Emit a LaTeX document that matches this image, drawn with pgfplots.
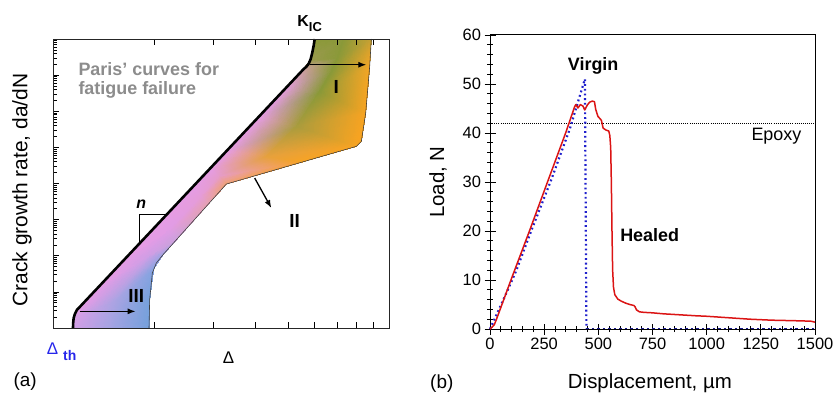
\documentclass[border=0pt]{standalone}
\usepackage{pgfplots}
\pgfplotsset{compat=1.18}
\usepackage{fontspec}
\setmainfont{Liberation Sans}
\usetikzlibrary{arrows.meta}
\definecolor{redc}{rgb}{0.86,0.08,0.08}
\definecolor{bluec}{rgb}{0.12,0.12,0.80}
\definecolor{thblue}{rgb}{0.15,0.15,0.92}
\definecolor{grayt}{rgb}{0.55,0.55,0.55}
\newcommand{\fs}[1]{\fontsize{#1}{#1}\selectfont}
\begin{document}
\begin{tikzpicture}[x=1bp,y=1bp]
\useasboundingbox (0,0) rectangle (834,394);
% ---------------- panel (a)
\begin{axis}[at={(53bp,66bp)}, anchor=south west, scale only axis,
  width=336bp, height=289bp,
  xmin=0, xmax=1, ymin=-10, ymax=-2, clip=false, axis on top,
  axis line style={line width=0.9bp, black!85},
  xtick={0.30103,0.47712,0.60206,0.69897,0.77815,0.84510,0.90309,0.95424},
  xticklabels={}, xtick pos=both,
  ytick={-10,-9,...,-2}, yticklabels={}, ytick pos=left,
  minor ytick={-9.69897,-9.52288,-9.39794,-9.30103,-9.22185,-9.15490,-9.09691,-9.04576,
  -8.69897,-8.52288,-8.39794,-8.30103,-8.22185,-8.15490,-8.09691,-8.04576,
  -7.69897,-7.52288,-7.39794,-7.30103,-7.22185,-7.15490,-7.09691,-7.04576,
  -6.69897,-6.52288,-6.39794,-6.30103,-6.22185,-6.15490,-6.09691,-6.04576,
  -5.69897,-5.52288,-5.39794,-5.30103,-5.22185,-5.15490,-5.09691,-5.04576,
  -4.69897,-4.52288,-4.39794,-4.30103,-4.22185,-4.15490,-4.09691,-4.04576,
  -3.69897,-3.52288,-3.39794,-3.30103,-3.22185,-3.15490,-3.09691,-3.04576,
  -2.69897,-2.52288,-2.39794,-2.30103,-2.22185,-2.15490,-2.09691,-2.04576},
  tick align=inside, major tick length=6bp, minor tick length=4bp,
  tick style={black, line width=0.6bp},
  ylabel={Crack growth rate, da/dN},
  ylabel style={at={(axis description cs:-0.092,0.4775)}, anchor=center, font=\fs{21}},
]
% gradient-filled region (triangles, colours per vertex)
\addplot[patch, shader=interp, mesh/color input=explicit, point meta=explicit symbolic]
table[meta=c] {
x y c
0.0595 -10 rgb=0.82,0.62,0.90
0.1726 -10 rgb=0.64,0.64,0.89
0.1736 -9.631 rgb=0.66,0.64,0.89
0.0595 -10 rgb=0.82,0.62,0.90
0.1736 -9.631 rgb=0.66,0.64,0.89
0.0615 -9.723 rgb=0.85,0.62,0.90
0.1726 -10 rgb=0.64,0.64,0.89
0.2857 -10 rgb=0.46,0.63,0.86
0.2867 -9.631 rgb=0.46,0.63,0.86
0.1726 -10 rgb=0.64,0.64,0.89
0.2867 -9.631 rgb=0.46,0.63,0.86
0.1736 -9.631 rgb=0.66,0.64,0.89
0.0615 -9.723 rgb=0.85,0.62,0.90
0.1736 -9.631 rgb=0.66,0.64,0.89
0.1786 -9.262 rgb=0.68,0.64,0.89
0.0615 -9.723 rgb=0.85,0.62,0.90
0.1786 -9.262 rgb=0.68,0.64,0.89
0.0714 -9.493 rgb=0.90,0.61,0.90
0.1736 -9.631 rgb=0.66,0.64,0.89
0.2867 -9.631 rgb=0.46,0.63,0.86
0.2877 -9.216 rgb=0.46,0.63,0.86
0.1736 -9.631 rgb=0.66,0.64,0.89
0.2877 -9.216 rgb=0.46,0.63,0.86
0.1786 -9.262 rgb=0.68,0.64,0.89
0.0714 -9.493 rgb=0.90,0.61,0.90
0.1786 -9.262 rgb=0.68,0.64,0.89
0.2232 -8.662 rgb=0.74,0.63,0.89
0.0714 -9.493 rgb=0.90,0.61,0.90
0.2232 -8.662 rgb=0.74,0.63,0.89
0.1389 -8.828 rgb=0.90,0.61,0.90
0.1786 -9.262 rgb=0.68,0.64,0.89
0.2877 -9.216 rgb=0.46,0.63,0.86
0.2996 -8.367 rgb=0.52,0.64,0.88
0.1786 -9.262 rgb=0.68,0.64,0.89
0.2996 -8.367 rgb=0.52,0.64,0.88
0.2232 -8.662 rgb=0.74,0.63,0.89
0.1389 -8.828 rgb=0.90,0.61,0.90
0.2232 -8.662 rgb=0.74,0.63,0.89
0.2728 -8.063 rgb=0.82,0.62,0.90
0.1389 -8.828 rgb=0.90,0.61,0.90
0.2728 -8.063 rgb=0.82,0.62,0.90
0.2183 -8.044 rgb=0.90,0.61,0.90
0.2232 -8.662 rgb=0.74,0.63,0.89
0.2996 -8.367 rgb=0.52,0.64,0.88
0.3274 -7.971 rgb=0.62,0.64,0.89
0.2232 -8.662 rgb=0.74,0.63,0.89
0.3274 -7.971 rgb=0.62,0.64,0.89
0.2728 -8.063 rgb=0.82,0.62,0.90
0.2183 -8.044 rgb=0.90,0.61,0.90
0.2728 -8.063 rgb=0.82,0.62,0.90
0.3433 -7.297 rgb=0.88,0.61,0.90
0.2183 -8.044 rgb=0.90,0.61,0.90
0.3433 -7.297 rgb=0.88,0.61,0.90
0.3175 -7.057 rgb=0.90,0.61,0.90
0.2728 -8.063 rgb=0.82,0.62,0.90
0.3274 -7.971 rgb=0.62,0.64,0.89
0.3690 -7.537 rgb=0.80,0.63,0.86
0.2728 -8.063 rgb=0.82,0.62,0.90
0.3690 -7.537 rgb=0.80,0.63,0.86
0.3433 -7.297 rgb=0.88,0.61,0.90
0.3175 -7.057 rgb=0.90,0.61,0.90
0.3433 -7.297 rgb=0.88,0.61,0.90
0.4415 -6.310 rgb=0.90,0.61,0.85
0.3175 -7.057 rgb=0.90,0.61,0.90
0.4415 -6.310 rgb=0.90,0.61,0.85
0.4167 -6.079 rgb=0.90,0.61,0.90
0.3433 -7.297 rgb=0.88,0.61,0.90
0.3690 -7.537 rgb=0.80,0.63,0.86
0.4653 -6.531 rgb=0.90,0.63,0.68
0.3433 -7.297 rgb=0.88,0.61,0.90
0.4653 -6.531 rgb=0.90,0.63,0.68
0.4415 -6.310 rgb=0.90,0.61,0.85
0.4167 -6.079 rgb=0.90,0.61,0.90
0.4415 -6.310 rgb=0.90,0.61,0.85
0.4921 -5.793 rgb=0.90,0.61,0.80
0.4167 -6.079 rgb=0.90,0.61,0.90
0.4921 -5.793 rgb=0.90,0.61,0.80
0.4683 -5.572 rgb=0.90,0.61,0.90
0.4415 -6.310 rgb=0.90,0.61,0.85
0.4653 -6.531 rgb=0.90,0.63,0.68
0.5159 -6.015 rgb=0.94,0.63,0.45
0.4415 -6.310 rgb=0.90,0.61,0.85
0.5159 -6.015 rgb=0.94,0.63,0.45
0.4921 -5.793 rgb=0.90,0.61,0.80
0.4683 -5.572 rgb=0.90,0.61,0.90
0.4921 -5.793 rgb=0.90,0.61,0.80
0.6349 -5.249 rgb=0.90,0.63,0.24
0.4683 -5.572 rgb=0.90,0.61,0.90
0.6349 -5.249 rgb=0.90,0.63,0.24
0.5159 -5.102 rgb=0.90,0.61,0.90
0.4921 -5.793 rgb=0.90,0.61,0.80
0.5159 -6.015 rgb=0.94,0.63,0.45
0.7440 -5.397 rgb=0.97,0.64,0.14
0.4921 -5.793 rgb=0.90,0.61,0.80
0.7440 -5.397 rgb=0.97,0.64,0.14
0.6349 -5.249 rgb=0.90,0.63,0.24
0.5159 -5.102 rgb=0.90,0.61,0.90
0.6349 -5.249 rgb=0.90,0.63,0.24
0.7242 -4.419 rgb=0.66,0.61,0.24
0.5159 -5.102 rgb=0.90,0.61,0.90
0.7242 -4.419 rgb=0.66,0.61,0.24
0.6151 -4.124 rgb=0.90,0.61,0.90
0.6349 -5.249 rgb=0.90,0.63,0.24
0.7440 -5.397 rgb=0.97,0.64,0.14
0.9028 -4.972 rgb=0.97,0.64,0.13
0.6349 -5.249 rgb=0.90,0.63,0.24
0.9028 -4.972 rgb=0.97,0.64,0.13
0.7242 -4.419 rgb=0.66,0.61,0.24
0.6151 -4.124 rgb=0.90,0.61,0.90
0.7242 -4.419 rgb=0.66,0.61,0.24
0.7937 -3.450 rgb=0.54,0.60,0.22
0.6151 -4.124 rgb=0.90,0.61,0.90
0.7937 -3.450 rgb=0.54,0.60,0.22
0.6944 -3.340 rgb=0.89,0.61,0.86
0.7242 -4.419 rgb=0.66,0.61,0.24
0.9028 -4.972 rgb=0.97,0.64,0.13
0.9306 -4.050 rgb=0.97,0.64,0.13
0.7242 -4.419 rgb=0.66,0.61,0.24
0.9306 -4.050 rgb=0.97,0.64,0.13
0.7937 -3.450 rgb=0.54,0.60,0.22
0.6944 -3.340 rgb=0.89,0.61,0.86
0.7937 -3.450 rgb=0.54,0.60,0.22
0.8284 -2.897 rgb=0.54,0.60,0.22
0.6944 -3.340 rgb=0.89,0.61,0.86
0.8284 -2.897 rgb=0.54,0.60,0.22
0.7460 -2.832 rgb=0.80,0.62,0.62
0.7937 -3.450 rgb=0.54,0.60,0.22
0.9306 -4.050 rgb=0.97,0.64,0.13
0.9425 -2.758 rgb=0.95,0.65,0.15
0.7937 -3.450 rgb=0.54,0.60,0.22
0.9425 -2.758 rgb=0.95,0.65,0.15
0.8284 -2.897 rgb=0.54,0.60,0.22
0.7460 -2.832 rgb=0.80,0.62,0.62
0.8284 -2.897 rgb=0.54,0.60,0.22
0.8452 -2.528 rgb=0.54,0.60,0.22
0.7460 -2.832 rgb=0.80,0.62,0.62
0.8452 -2.528 rgb=0.54,0.60,0.22
0.7659 -2.574 rgb=0.60,0.60,0.30
0.8284 -2.897 rgb=0.54,0.60,0.22
0.9425 -2.758 rgb=0.95,0.65,0.15
0.9444 -2.435 rgb=0.90,0.64,0.16
0.8284 -2.897 rgb=0.54,0.60,0.22
0.9444 -2.435 rgb=0.90,0.64,0.16
0.8452 -2.528 rgb=0.54,0.60,0.22
0.7659 -2.574 rgb=0.60,0.60,0.30
0.8452 -2.528 rgb=0.54,0.60,0.22
0.8631 -2 rgb=0.54,0.60,0.22
0.7659 -2.574 rgb=0.60,0.60,0.30
0.8631 -2 rgb=0.54,0.60,0.22
0.7788 -2 rgb=0.54,0.60,0.22
0.8452 -2.528 rgb=0.54,0.60,0.22
0.9444 -2.435 rgb=0.90,0.64,0.16
0.9474 -2 rgb=0.78,0.63,0.20
0.8452 -2.528 rgb=0.54,0.60,0.22
0.9474 -2 rgb=0.78,0.63,0.20
0.8631 -2 rgb=0.54,0.60,0.22
0.9028 -4.972 rgb=0.97,0.64,0.13
0.9177 -4.834 rgb=0.97,0.64,0.13
0.9306 -4.050 rgb=0.97,0.64,0.13
};
% right boundary
\addplot[black!75, line width=0.6bp] coordinates {
(0.2857,-10) (0.2867,-9.631) (0.2877,-9.216) (0.2956,-8.478) (0.3075,-8.201)
(0.3274,-7.971) (0.5159,-6.015) (0.9028,-4.972) (0.9177,-4.834) (0.9306,-4.050)
(0.9425,-2.758) (0.9474,-2.0)};
% left boundary (Paris line)
\addplot[black, line width=2.6bp, line join=round] coordinates {
(0.0595,-10) (0.0600,-9.862) (0.0615,-9.723) (0.0655,-9.603) (0.0714,-9.493)
(0.0794,-9.419) (0.7460,-2.832) (0.7540,-2.767) (0.7609,-2.685) (0.7669,-2.555)
(0.7718,-2.371) (0.7758,-2.186) (0.7788,-2.0)};
% slope triangle
\addplot[black, line width=0.6bp] coordinates {(0.258,-7.654) (0.258,-6.864) (0.338,-6.864)};
% arrows
\addplot[black, line width=1.3bp, -{Latex[length=8bp,width=6bp]}] coordinates {(0.7639,-2.712) (0.9325,-2.712)};
\addplot[black, line width=1.3bp, -{Latex[length=8bp,width=6bp]}] coordinates {(0.0794,-9.539) (0.246,-9.539)};
\addplot[black, line width=1.3bp, -{Latex[length=8bp,width=6bp]}] coordinates {(0.6002,-5.849) (0.6498,-6.679)};
% labels
\node[font=\fs{19}\bfseries] at (axis cs:0.8433,-3.33) {I};
\node[font=\fs{19}\bfseries] at (axis cs:0.7192,-7.05) {II};
\node[font=\fs{19}\bfseries] at (axis cs:0.248,-9.124) {III};
\node[font=\fs{16}\bfseries\itshape] at (axis cs:0.2629,-6.56) {n};
\node[anchor=base west, inner sep=0pt, font=\fs{16}\bfseries] at (axis description cs:0.727,1.0426) {K\raisebox{-5bp}{\fs{13}IC}};
\node[anchor=north west, inner sep=0pt, align=left, text=grayt, font=\fontsize{18}{19.5}\selectfont\bfseries] at (axis description cs:0.0753,0.920) {Paris' curves for\\fatigue failure};
\node[anchor=base west, inner sep=0pt, text=thblue, font=\fs{17}] at (axis description cs:-0.0188,-0.0934) {Δ\hspace{5bp}\raisebox{-6bp}{\fs{14}\bfseries th}};
\node[anchor=base west, inner sep=0pt, font=\fs{17}] at (axis description cs:0.505,-0.122) {Δ};
\node[anchor=base west, inner sep=0pt, font=\fs{19}] at (axis description cs:-0.118,-0.2007) {(a)};
\end{axis}
% ---------------- panel (b)
\begin{axis}[at={(490bp,65bp)}, anchor=south west, scale only axis,
  width=325bp, height=294bp,
  xmin=0, xmax=1500, ymin=0, ymax=60, clip=false,
  xtick={0,250,...,1500}, ytick={0,10,...,60},
  minor x tick num=4, minor y tick num=4,
  tick align=center, xtick pos=bottom, ytick pos=left,
  major tick length=11bp, minor tick length=6bp,
  axis line style={line width=1bp, black},
  tick style={line width=0.8bp, black},
  ticklabel style={font=\fs{16.5}},
  /pgf/number format/assume math mode=true,
  /pgf/number format/1000 sep={},
  scaled ticks=false,
  xlabel={Displacement, µm}, ylabel={Load, N},
  xlabel style={at={(axis description cs:0.492,-0.204)}, anchor=base, font=\fs{20.5}},
  ylabel style={at={(axis description cs:-0.16,0.5)}, anchor=center, font=\fs{20.5}},
]
\addplot[black, line width=0.7bp, dash pattern=on 0.8bp off 1.3bp] coordinates {(0,42) (1500,42)};
\addplot[bluec, line width=2.2bp, dash pattern=on 1.8bp off 2.9bp] coordinates {
(0,0) (60,5.8) (120,11.8) (190,20) (283,30.5) (368,40.8) (438,51) (445,0)};
\addplot[bluec!70!black, line width=1bp, dash pattern=on 2.5bp off 3bp] coordinates {(445,0.2) (1500,0.2)};
\addplot[redc, line width=1.5bp, line join=round] coordinates {
(0,0) (10,0.4) (20,0.9) (30,2.0) (100,10.4) (182,20) (267,30.2) (349,40) (390,45.3)
(396,45.8) (406,45.1) (417,45.8) (429,45.5) (437,44.7) (449,45.7) (460,46.3) (472,46.5)
(482,46.4) (488,44.8) (498,43.4) (514,42.6) (522,41.0) (535,40.6) (548,40.4) (553,39.5)
(557,37) (560,30) (563,20) (566,12) (570,8.5) (576,7.0) (590,6.1) (605,5.7) (625,5.3)
(645,5.0) (664,4.8) (670,4.5) (676,3.9) (690,3.5) (710,3.4) (750,3.3) (800,3.1)
(875,2.9) (950,2.7) (1000,2.6) (1100,2.3) (1200,2.0) (1250,1.9) (1300,1.8) (1400,1.7)
(1480,1.6) (1500,1.4)};
\node[font=\fs{18}\bfseries] at (axis cs:476,53.6) {Virgin};
\node[font=\fs{18}\bfseries] at (axis cs:737,19.2) {Healed};
\node[font=\fs{18}] at (axis cs:1322,39.3) {Epoxy};
\node[anchor=base west, inner sep=0pt, font=\fs{19}] at (axis description cs:-0.1846,-0.2007) {(b)};
\end{axis}
\end{tikzpicture}
\end{document}
